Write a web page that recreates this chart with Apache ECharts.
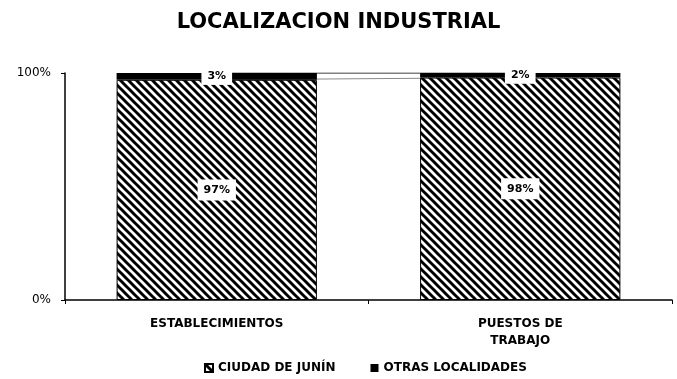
<!DOCTYPE html>
<html><head><meta charset="utf-8">
<script src="https://cdn.jsdelivr.net/npm/echarts@6/dist/echarts.min.js"></script>
<style>html,body{margin:0;padding:0;background:#fff}#c{width:677px;height:379px}</style>
</head><body><div id="c"></div>
<script>
const categories = ['ESTABLECIMIENTOS', 'PUESTOS DE\nTRABAJO'];
const ciudadJunin = [97, 98];
const otrasLocalidades = [3, 2];
const seriesNames = ['CIUDAD DE JUNÍN', 'OTRAS LOCALIDADES'];
const yTicks = [0, 100];

function hatch() {
  const s = 8;
  const c = document.createElement('canvas');
  c.width = s; c.height = s;
  const g = c.getContext('2d');
  g.fillStyle = '#fff'; g.fillRect(0, 0, s, s);
  g.strokeStyle = '#000'; g.lineWidth = 3;
  for (let k = -1; k <= 1; k++) {
    g.beginPath();
    g.moveTo(k * s - 1, -1);
    g.lineTo(k * s + s + 1, s + 1);
    g.stroke();
  }
  return c;
}
const pat = { image: hatch(), repeat: 'repeat' };
const font = 'DejaVu Sans, sans-serif';
const labelBox = {
  show: true, color: '#000', fontFamily: font, fontWeight: 'bold', fontSize: 11,
  backgroundColor: '#fff', padding: [5, 6], formatter: '{c}%'
};
const totals = ciudadJunin.map((v, i) => v + otrasLocalidades[i]);

const chart = echarts.init(document.getElementById('c'));
chart.setOption({
  animation: false,
  title: { text: 'LOCALIZACION INDUSTRIAL', left: 'center', top: 7,
    textStyle: { fontFamily: font, fontWeight: 'bold', fontSize: 21, color: '#000' } },
  grid: { left: 65, right: 5, top: 73, bottom: 79 },
  legend: { top: 357, left: 199, itemWidth: 8, itemHeight: 8, itemGap: 35, icon: 'rect',
    textStyle: { fontFamily: font, fontWeight: 'bold', fontSize: 12, color: '#000' },
    data: seriesNames },
  xAxis: { type: 'category', data: categories,
    axisLine: { lineStyle: { color: '#000', width: 1.5 } },
    axisTick: { show: true, lineStyle: { color: '#000' }, length: 4 },
    axisLabel: { fontFamily: font, fontWeight: 'bold', fontSize: 12, color: '#000', margin: 15, lineHeight: 17 } },
  yAxis: { type: 'value', min: yTicks[0], max: yTicks[1], interval: 100,
    axisLine: { show: true, lineStyle: { color: '#000', width: 1.5 } },
    axisTick: { show: true, lineStyle: { color: '#000' }, length: 4 },
    splitLine: { show: false },
    axisLabel: { fontFamily: font, fontSize: 12, color: '#000', margin: 14, formatter: '{value}%' } },
  series: [
    { name: 'top-line', type: 'line', data: totals, z: 1, symbol: 'none', silent: true,
      lineStyle: { color: '#000', width: 1.2 } },
    { name: 'mid-line', type: 'line', data: ciudadJunin, z: 1, symbol: 'none', silent: true,
      lineStyle: { color: '#888', width: 1 } },
    { name: seriesNames[0], type: 'bar', stack: 's', barWidth: '66%', data: ciudadJunin, z: 3,
      itemStyle: { color: pat, borderColor: '#000', borderWidth: 1 },
      label: Object.assign({}, labelBox, { position: 'inside' }) },
    { name: seriesNames[1], type: 'bar', stack: 's', data: otrasLocalidades, z: 3,
      itemStyle: { color: '#000' },
      label: Object.assign({}, labelBox, { position: 'inside', padding: [3, 6] }) }
  ]
});
</script></body></html>
